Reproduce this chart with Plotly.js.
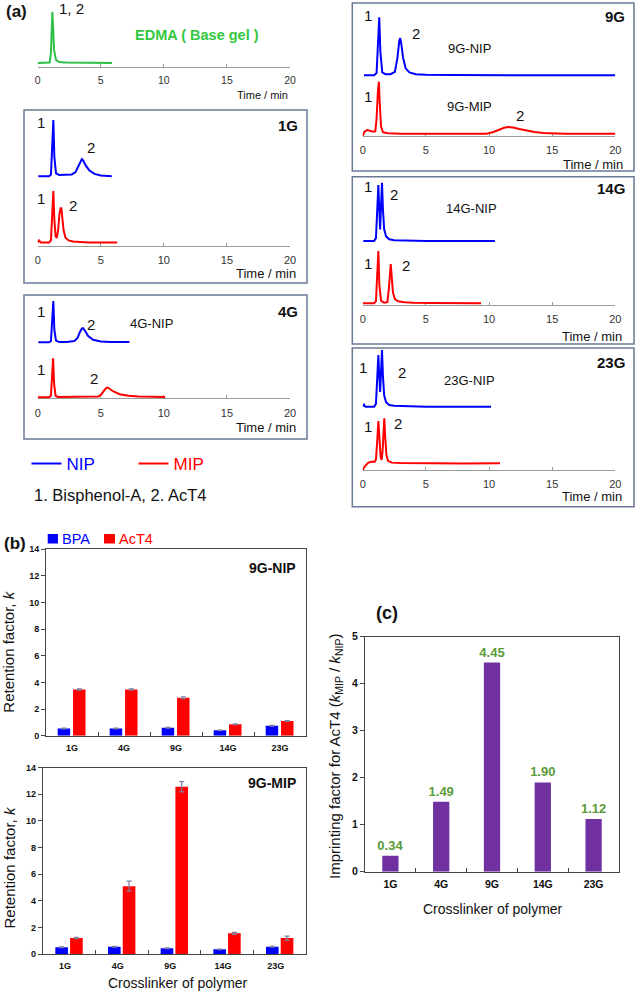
<!DOCTYPE html>
<html><head><meta charset="utf-8">
<script src="https://cdn.plot.ly/plotly-3.0.1.min.js"></script>
<style>html,body{margin:0;padding:0;background:#fff}#chart{width:636px;height:992px}</style>
</head><body><div id="chart"></div>
<script>
// ---------- (a) chromatogram data: time (min) and normalised signal ----------
const edmaTime = [0, 0.8, 0.95, 1.05, 1.12, 1.16, 1.22, 1.3, 1.45, 1.7, 2.2, 3, 4, 5, 5.9];
const edmaSig  = [0, 0, 0.01, 0.2, 0.8, 1, 0.7, 0.25, 0.06, 0.02, 0.01, 0.005, 0, 0, 0];

const g1NipTime = [0.05, 0.9, 1.05, 1.15, 1.24, 1.32, 1.45, 1.7, 2.2, 2.7, 3.0, 3.2, 3.4, 3.5, 3.6, 3.8, 4.1, 4.5, 5.0, 5.5, 5.87];
const g1NipSig  = [0.01, 0.01, 0.04, 0.45, 1, 0.35, 0.06, 0.03, 0.03, 0.04, 0.08, 0.17, 0.28, 0.31, 0.29, 0.2, 0.11, 0.05, 0.02, 0.01, 0.01];
const g1MipTime = [0, 0.1, 0.25, 0.9, 1.05, 1.15, 1.24, 1.32, 1.42, 1.52, 1.62, 1.72, 1.82, 1.88, 1.95, 2.05, 2.2, 2.45, 2.8, 3.3, 4, 5, 6.3];
const g1MipSig  = [0.01, 0.05, 0.01, 0.01, 0.05, 0.5, 1, 0.45, 0.13, 0.1, 0.25, 0.55, 0.68, 0.66, 0.5, 0.25, 0.1, 0.05, 0.03, 0.02, 0.01, 0.01, 0.01];

const g4NipTime = [0.05, 0.9, 1.05, 1.15, 1.24, 1.32, 1.45, 1.7, 2.3, 2.9, 3.15, 3.35, 3.5, 3.6, 3.75, 4.0, 4.4, 5.0, 5.8, 7.27];
const g4NipSig  = [0, 0, 0.03, 0.45, 1, 0.3, 0.04, 0.01, 0.01, 0.03, 0.1, 0.25, 0.33, 0.34, 0.28, 0.15, 0.06, 0.02, 0.01, 0.01];
const g4MipTime = [0, 0.9, 1.05, 1.15, 1.22, 1.3, 1.42, 1.6, 2.5, 4.0, 4.8, 5.0, 5.2, 5.4, 5.55, 5.7, 6.0, 6.5, 7.2, 8.0, 9.0, 10.1];
const g4MipSig  = [0, 0, 0.04, 0.5, 1, 0.35, 0.04, 0.01, 0.01, 0.01, 0.02, 0.06, 0.15, 0.23, 0.25, 0.22, 0.15, 0.08, 0.04, 0.02, 0.01, 0.01];

const g9NipTime = [0.1, 0.9, 1.1, 1.2, 1.31, 1.4, 1.55, 1.8, 2.2, 2.55, 2.75, 2.9, 2.97, 3.05, 3.2, 3.4, 3.7, 4.2, 5, 7, 10, 15, 20];
const g9NipSig  = [0, 0, 0.04, 0.4, 1, 0.4, 0.05, 0.02, 0.02, 0.06, 0.3, 0.6, 0.64, 0.55, 0.3, 0.12, 0.05, 0.02, 0.01, 0.005, 0, 0, 0];
const g9MipTime = [0, 0.15, 0.35, 0.6, 0.85, 1.0, 1.1, 1.2, 1.28, 1.35, 1.45, 1.6, 2.0, 3, 5, 7, 8, 9, 9.8, 10.3, 10.8, 11.2, 11.5, 11.9, 12.4, 13, 13.6, 14.3, 15, 16, 18, 20];
const g9MipSig  = [-0.03, 0.05, 0.08, 0.07, 0.05, 0.06, 0.3, 0.8, 1, 0.6, 0.15, 0.04, 0.02, 0.01, 0.01, 0.02, 0.02, 0.01, 0.01, 0.04, 0.09, 0.125, 0.14, 0.13, 0.1, 0.07, 0.045, 0.025, 0.015, 0.01, 0.01, 0.01];

const g14NipTime = [0.05, 0.9, 1.05, 1.15, 1.24, 1.3, 1.38, 1.45, 1.53, 1.6, 1.7, 1.85, 2.1, 2.5, 3.5, 5, 7, 10.47];
const g14NipSig  = [0, 0, 0.05, 0.5, 0.96, 0.6, 0.2, 0.6, 1, 0.55, 0.2, 0.08, 0.03, 0.015, 0.005, 0, 0, 0];
const g14MipTime = [0, 0.9, 1.05, 1.15, 1.24, 1.32, 1.45, 1.7, 1.95, 2.08, 2.15, 2.22, 2.3, 2.4, 2.55, 2.8, 3.3, 4, 5.5, 7, 9.37];
const g14MipSig  = [0, 0, 0.04, 0.5, 1, 0.35, 0.05, 0.01, 0.02, 0.3, 0.65, 0.75, 0.5, 0.2, 0.08, 0.04, 0.02, 0.01, 0.005, 0, 0];

const g23NipTime = [0.05, 0.1, 0.15, 0.25, 0.9, 1.05, 1.15, 1.24, 1.3, 1.38, 1.45, 1.53, 1.6, 1.7, 1.85, 2.1, 2.5, 3.5, 5, 7, 10.16];
const g23NipSig  = [0, 0.05, 0.01, 0, 0, 0.05, 0.5, 0.91, 0.6, 0.26, 0.6, 1, 0.55, 0.2, 0.08, 0.03, 0.015, 0.005, 0, 0, 0];
const g23MipTime = [0, 0.2, 0.45, 0.7, 0.95, 1.05, 1.15, 1.24, 1.32, 1.42, 1.5, 1.58, 1.65, 1.71, 1.78, 1.88, 2.0, 2.3, 3, 5, 8, 10.87];
const g23MipSig  = [-0.13, -0.04, 0.03, 0.05, 0.05, 0.1, 0.5, 0.94, 0.6, 0.15, 0.09, 0.3, 0.7, 1, 0.6, 0.2, 0.07, 0.03, 0.02, 0.01, 0.01, 0.015];

const timeTicks = [0, 5, 10, 15, 20];

// ---------- (b) retention factors ----------
const cats = ['1G', '4G', '9G', '14G', '23G'];
const nipBPA = [0.55, 0.55, 0.6, 0.4, 0.75];
const nipBPAerr = [0.03, 0.03, 0.03, 0.02, 0.03];
const nipAcT4 = [3.47, 3.47, 2.85, 0.86, 1.1];
const nipAcT4err = [0.04, 0.04, 0.06, 0.03, 0.03];
const mipBPA = [0.5, 0.55, 0.43, 0.35, 0.55];
const mipBPAerr = [0.03, 0.03, 0.03, 0.02, 0.03];
const mipAcT4 = [1.2, 5.1, 12.57, 1.55, 1.2];
const mipAcT4err = [0.05, 0.38, 0.38, 0.08, 0.15];

// ---------- (c) imprinting factor ----------
const imprint = [0.34, 1.49, 4.45, 1.90, 1.12];

// ---------- styling / layout helpers ----------
const W = 636, H = 992;
const PX = x => x / W, PY = y => 1 - y / H;
const PB = 0.2, PT = 0.1;
const ydom = (base, top) => { const u = base - top; return [Math.max(0, PY(base + PB * u)), Math.min(1, PY(top - PT * u))]; };
const BLUE = '#0000ff', RED = '#ff0000', GREEN = '#2dbf46', GREEN_T = '#33c83f', PURPLE = '#7030a0', LABG = '#5b9b3b';
const FONT = 'Liberation Sans, Arial, sans-serif';

const panels = [
  {x0: 37.7, x1: 290, axis: 66.7, tick: 10.5, series: [{t: edmaTime, s: edmaSig, c: GREEN, base: 63, top: 12}]},
  {x0: 37.7, x1: 290, axis: 245.7, tick: 11, series: [{t: g1NipTime, s: g1NipSig, c: BLUE, base: 176.7, top: 120, leg: 'NIP'}, {t: g1MipTime, s: g1MipSig, c: RED, base: 243, top: 191, leg: 'MIP'}]},
  {x0: 37.7, x1: 290, axis: 398.3, tick: 11, series: [{t: g4NipTime, s: g4NipSig, c: BLUE, base: 342.3, top: 301}, {t: g4MipTime, s: g4MipSig, c: RED, base: 397.3, top: 358.3}]},
  {x0: 362.7, x1: 615.3, axis: 136, tick: 11, series: [{t: g9NipTime, s: g9NipSig, c: BLUE, base: 75.3, top: 17.3}, {t: g9MipTime, s: g9MipSig, c: RED, base: 134.3, top: 81.7}]},
  {x0: 362.7, x1: 615.3, axis: 305, tick: 11, series: [{t: g14NipTime, s: g14NipSig, c: BLUE, base: 241, top: 182.7}, {t: g14MipTime, s: g14MipSig, c: RED, base: 303.3, top: 251}]},
  {x0: 362.7, x1: 615.3, axis: 470, tick: 11, series: [{t: g23NipTime, s: g23NipSig, c: BLUE, base: 406.7, top: 350}, {t: g23MipTime, s: g23MipSig, c: RED, base: 464, top: 418.3}]}
];

const layout = {
  width: W, height: H, margin: {l: 0, r: 0, t: 0, b: 0, pad: 0},
  paper_bgcolor: '#ffffff', plot_bgcolor: 'rgba(0,0,0,0)',
  font: {family: FONT, color: '#111'}, hovermode: false, showlegend: true,
  annotations: [], shapes: [],
  legend: {orientation: 'h', x: PX(26.5), y: PY(464), xanchor: 'left', yanchor: 'middle', font: {size: 17}, bgcolor: 'rgba(0,0,0,0)', entrywidth: 62, entrywidthmode: 'pixels', tracegroupgap: 0}
};
const data = [];
let xi = 1, yi = 1;
const nm = (p, i) => i === 1 ? p : p + i;

panels.forEach(p => {
  const xr = nm('x', xi);
  layout[nm('xaxis', xi)] = {
    domain: [PX(p.x0), PX(p.x1)], range: [0, 20], anchor: 'free', position: PY(p.axis),
    showline: true, linecolor: '#9a9a9a', linewidth: 1, ticks: 'inside', ticklen: 3, tickcolor: '#9a9a9a',
    tickvals: timeTicks, tickfont: {size: p.tick, color: '#333'}, showgrid: false, zeroline: false,
    ticklabelstandoff: 4, fixedrange: true
  };
  p.series.forEach(s => {
    const yr = nm('y', yi);
    layout[nm('yaxis', yi)] = {domain: ydom(s.base, s.top), range: [-PB, 1 + PT], visible: false, anchor: xr, fixedrange: true};
    data.push({
      type: 'scatter', mode: 'lines', x: s.t, y: s.s, xaxis: xr, yaxis: yr,
      line: {color: s.c, width: 2}, showlegend: !!s.leg, legend: 'legend',
      name: s.leg ? '<span style="color:' + s.c + '">' + s.leg + '</span>' : 'trace'
    });
    yi++;
  });
  xi++;
});

// ---------- bar panels ----------
function barAxes(xIdx, yIdx, xd, yd, yrange, dtick, tsize, shift) {
  layout[nm('xaxis', xIdx)] = {
    domain: xd, anchor: nm('y', yIdx), type: 'category', range: [-0.5, 4.5],
    showline: true, mirror: true, linecolor: '#444', linewidth: 1, ticks: 'inside', ticklen: 4, tickcolor: '#444',
    tickson: 'boundaries', tickfont: {size: tsize, weight: 'bold', color: '#111'}, showgrid: false, zeroline: false,
    ticklabelstandoff: 3, ticklabelshift: shift || 0, fixedrange: true
  };
  layout[nm('yaxis', yIdx)] = {
    domain: yd, anchor: nm('x', xIdx), range: yrange, dtick: dtick,
    showline: true, mirror: true, linecolor: '#444', linewidth: 1, ticks: 'outside', ticklen: 4, tickcolor: '#444',
    tickfont: {size: tsize, weight: 'bold', color: '#111'}, showgrid: false, zeroline: false, fixedrange: true
  };
}
const xb1 = xi++, yb1 = yi++;
barAxes(xb1, yb1, [PX(46), PX(306)], [PY(735.7), PY(549.3)], [0, 14], 2, 9);
const xb2 = xi++, yb2 = yi++;
barAxes(xb2, yb2, [PX(42.7), PX(306)], [PY(954), PY(767.7)], [0, 14], 2, 9, -4);
const xc = xi++, yc = yi++;
barAxes(xc, yc, [PX(365), PX(619)], [PY(871.7), PY(636.7)], [0, 5], 1, 10.5);

const errStyle = arr => ({type: 'data', array: arr, visible: true, color: '#7f7f9f', thickness: 1.2, width: 2.5});
function bars(vals, errs, color, name, xIdx, yIdx, offset) {
  data.push({
    type: 'bar', x: cats, y: vals, xaxis: nm('x', xIdx), yaxis: nm('y', yIdx),
    width: 0.24, offset: offset, marker: {color: color, line: {width: 0}},
    error_y: errStyle(errs), showlegend: false, name: name
  });
}
bars(nipBPA, nipBPAerr, BLUE, 'BPA', xb1, yb1, -0.275);
bars(nipAcT4, nipAcT4err, RED, 'AcT4', xb1, yb1, 0.02);
bars(mipBPA, mipBPAerr, BLUE, 'BPA', xb2, yb2, -0.26);
bars(mipAcT4, mipAcT4err, RED, 'AcT4', xb2, yb2, 0.02);
data.push({
  type: 'bar', x: cats, y: imprint, xaxis: nm('x', xc), yaxis: nm('y', yc),
  width: 0.32, offset: -0.16, marker: {color: PURPLE, line: {width: 0}},
  texttemplate: '%{y:.2f}', textposition: 'outside', constraintext: 'none', cliponaxis: false,
  textfont: {size: 13, color: LABG, weight: 'bold'}, showlegend: false, name: 'Imprinting factor'
});

// ---------- boxes and (b) legend keys ----------
const box = (x0, y0, x1, y1) => ({type: 'rect', xref: 'paper', yref: 'paper', x0: PX(x0), x1: PX(x1), y0: PY(y1), y1: PY(y0), line: {color: '#6a7a96', width: 1.5}, fillcolor: 'rgba(0,0,0,0)'});
const key = (x0, y0, x1, y1, c) => ({type: 'rect', xref: 'paper', yref: 'paper', x0: PX(x0), x1: PX(x1), y0: PY(y1), y1: PY(y0), line: {width: 0}, fillcolor: c});
layout.shapes = [box(24, 110, 307, 283), box(24, 295, 307, 439), box(352.3, 3, 634, 171), box(352.3, 176.7, 634, 344), box(352.3, 348, 634, 506.7),
  key(47.7, 534, 58, 543.5, BLUE), key(104, 534, 115, 543.5, RED)];

// ---------- texts ----------
const A = (text, x, y, size, o = {}) => ({
  xref: 'paper', yref: 'paper', x: PX(x), y: PY(y), text: text, showarrow: false,
  font: {size: size, color: o.color || '#111', family: FONT}, xanchor: o.xa || 'center', yanchor: 'middle', textangle: o.angle || 0
});
const R = {xa: 'right'}, L = {xa: 'left'};
layout.annotations = [
  A('<b>(a)</b>', 4, 12, 17, L),
  A('1, 2', 71, 9, 15),
  A('<b>EDMA ( Base gel )</b>', 132.7, 35, 14.5, {xa: 'left', color: GREEN_T}),
  A('Time / min', 290, 95, 11, R),
  A('1', 41, 122, 15), A('2', 90.8, 147.5, 15), A('1', 41, 199, 15), A('2', 72.5, 206, 15),
  A('<b>1G</b>', 300, 126, 15, R), A('Time / min', 298.3, 274, 13, R),
  A('1', 41, 311.7, 15), A('2', 91, 324, 15), A('4G-NIP', 151.3, 323, 13), A('1', 41, 369.5, 15), A('2', 94, 378.7, 15),
  A('<b>4G</b>', 300, 311, 15, R), A('Time / min', 298.3, 428, 13, R),
  A('1. Bisphenol-A, 2. AcT4', 31.7, 495, 16.5, L),
  A('1', 368.3, 16, 15), A('2', 415.8, 33.3, 15), A('9G-NIP', 470, 48.3, 13), A('1', 368.3, 96, 15), A('9G-MIP', 470, 106.7, 13), A('2', 520, 115.3, 15),
  A('<b>9G</b>', 627.3, 16.7, 15, R), A('Time / min', 625, 165, 13, R),
  A('1', 368.3, 187, 15), A('2', 394, 194, 15), A('14G-NIP', 471.7, 208, 13), A('1', 368.3, 263, 15), A('2', 405.8, 265.3, 15),
  A('<b>14G</b>', 627.3, 188.7, 15, R), A('Time / min', 624, 336.5, 13, R),
  A('1', 363.3, 367.8, 15), A('2', 401.5, 372.2, 15), A('23G-NIP', 469.5, 381, 13), A('1', 368.3, 426.7, 15), A('2', 398, 423.3, 15),
  A('<b>23G</b>', 627.3, 362, 15, R), A('Time / min', 624, 496.5, 13, R),
  A('<b>(b)</b>', 2, 543.3, 17, L),
  A('BPA', 59.5, 539, 14.5, {xa: 'left', color: BLUE}),
  A('AcT4', 116.5, 539, 14.5, {xa: 'left', color: RED}),
  A('<b>9G-NIP</b>', 297.7, 567.5, 14, R),
  A('Retention factor, <i>k</i>', 9, 651.7, 15, {angle: -90}),
  A('<b>9G-MIP</b>', 297.7, 782.5, 14, R),
  A('Retention factor, <i>k</i>', 9, 867.5, 15, {angle: -90}),
  A('Crosslinker of polymer', 178, 983, 14),
  A('<b>(c)</b>', 386.7, 613.3, 18),
  A('Imprinting factor for AcT4 (<i>k</i><sub>MIP</sub> / <i>k</i><sub>NIP</sub>)', 335, 757, 15, {angle: -90}),
  A('Crosslinker of polymer', 493.3, 909.3, 14)
];

Plotly.newPlot('chart', data, layout, {displayModeBar: false, staticPlot: true});
</script></body></html>
